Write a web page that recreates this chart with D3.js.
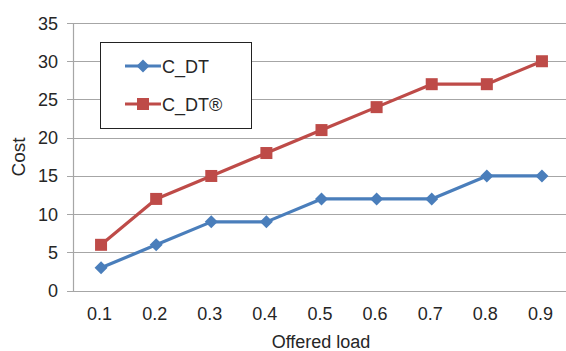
<!DOCTYPE html>
<html><head><meta charset="utf-8">
<script src="https://cdn.jsdelivr.net/npm/d3@7"></script>
<style>body{margin:0;background:#fff}svg{display:block}text{font-family:"Liberation Sans",Arial,sans-serif;fill:#262626}</style>
</head><body><svg id="c" width="566" height="351"></svg>
<script>
const categories = ["0.1","0.2","0.3","0.4","0.5","0.6","0.7","0.8","0.9"];
const seriesNames = ["C_DT","C_DT®"];
const cdt = [3,6,9,9,12,12,12,15,15];
const cdtR = [6,12,15,18,21,24,27,27,30];
const yTicks = [0,5,10,15,20,25,30,35];

(function(){
const svg = d3.select("#c");
const mLeft = 73.5, mRight = 569.5, mTop = 23, mBottom = 290.7;
const x = d3.scaleBand().domain(categories).range([mLeft, mRight]);
const y = d3.scaleLinear().domain([0,35]).range([mBottom, mTop]);
const fs = "18px";

svg.append("g").selectAll("line").data(yTicks).join("line")
  .attr("x1", 67).attr("x2", 566)
  .attr("y1", d=>Math.round(y(d))+0.5).attr("y2", d=>Math.round(y(d))+0.5)
  .attr("stroke", "#a6a6a6").attr("stroke-width", 1.2);
svg.append("line").attr("x1", 73.5).attr("x2", 73.5).attr("y1", mTop).attr("y2", mBottom+0.5)
  .attr("stroke","#a6a6a6").attr("stroke-width",1.2);
svg.append("g").selectAll("text").data(yTicks).join("text")
  .attr("x", 58).attr("y", d=>y(d)+6.5).attr("text-anchor","end")
  .style("font-size",fs).text(d=>d);
svg.append("g").selectAll("text").data(categories).join("text")
  .attr("x", d=>x(d)+x.bandwidth()/2-1.5).attr("y", 320).attr("text-anchor","middle")
  .style("font-size",fs).text(d=>d);
svg.append("text").attr("x", 321).attr("y", 348).attr("text-anchor","middle")
  .style("font-size",fs).text("Offered load");
svg.append("text").attr("transform","translate(25,157) rotate(-90)").attr("text-anchor","middle")
  .style("font-size","19px").text("Cost");

const colors = ["#4a7ebb","#be4b48"];
const data = [cdt, cdtR];
const diamond = "M0,-6.5L6.5,0L0,6.5L-6.5,0Z";
const line = d3.line().x((d,i)=>x(categories[i])+x.bandwidth()/2).y(d=>y(d));
data.forEach((s,k)=>{
  svg.append("path").attr("d", line(s)).attr("fill","none").attr("stroke",colors[k]).attr("stroke-width",3.2).attr("stroke-linejoin","round");
  const g = svg.append("g");
  s.forEach((v,i)=>{
    const cx = x(categories[i])+x.bandwidth()/2, cy = y(v);
    if(k===0) g.append("path").attr("d", diamond).attr("transform",`translate(${cx},${cy})`).attr("fill",colors[k]);
    else g.append("rect").attr("x",cx-6).attr("y",cy-6).attr("width",12).attr("height",12).attr("fill",colors[k]);
  });
});

svg.append("rect").attr("x",100.5).attr("y",42.5).attr("width",151).attr("height",86).attr("fill","#fff").attr("stroke","#222").attr("stroke-width",1);
const ly = [66, 104];
seriesNames.forEach((n,k)=>{
  svg.append("line").attr("x1",125).attr("x2",161).attr("y1",ly[k]).attr("y2",ly[k]).attr("stroke",colors[k]).attr("stroke-width",3.2);
  if(k===0) svg.append("path").attr("d", diamond).attr("transform",`translate(143,${ly[k]})`).attr("fill",colors[k]);
  else svg.append("rect").attr("x",137).attr("y",ly[k]-6).attr("width",12).attr("height",12).attr("fill",colors[k]);
  svg.append("text").attr("x",162).attr("y",ly[k]+6.5).style("font-size","18px").text(n);
});
})();
</script></body></html>
